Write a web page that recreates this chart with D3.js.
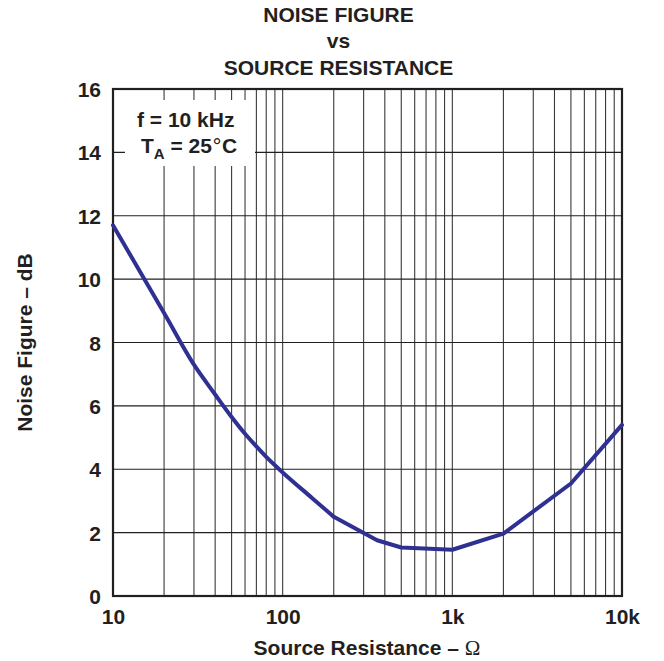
<!DOCTYPE html>
<html><head><meta charset="utf-8">
<script src="https://cdn.jsdelivr.net/npm/d3@7"></script>
<style>body{margin:0;background:#fff}svg{display:block}text{font-family:"Liberation Sans",Arial,sans-serif;font-weight:bold;fill:#231f20}</style>
</head><body>
<svg id="c" width="664" height="661"></svg>
<script>
const titleLines = ["NOISE FIGURE", "vs", "SOURCE RESISTANCE"];
const xLabel = "Source Resistance – ";
const yLabel = "Noise Figure – dB";
const xTicks = [10, 100, 1000, 10000];
const xTickLabels = ["10", "100", "1k", "10k"];
const yTicks = [0, 2, 4, 6, 8, 10, 12, 14, 16];
const resistance = [10, 20, 30, 40, 50, 60, 70, 80, 100, 150, 200, 360, 500, 1000, 2000, 5000, 10000];
const noiseFigure = [11.7, 8.93, 7.3, 6.36, 5.65, 5.12, 4.72, 4.39, 3.9, 3.08, 2.5, 1.76, 1.53, 1.46, 1.97, 3.55, 5.4];

const FS = 21;
const svg = d3.select("#c");
const L = 113, R = 622, T = 89, B = 596;
const x = d3.scaleLog().domain([10, 10000]).range([L, R]);
const y = d3.scaleLinear().domain([0, 16]).range([B, T]);

const vgrid = [];
for (let d = 10; d < 10000; d *= 10) for (let k = 1; k <= 9; k++) vgrid.push(d * k);
vgrid.push(10000);

const g = svg.append("g");
g.selectAll("line.v").data(vgrid).join("line")
  .attr("x1", d => x(d)).attr("x2", d => x(d)).attr("y1", T).attr("y2", B)
  .attr("stroke", "#3a3a3a").attr("stroke-width", 1.1);
g.selectAll("line.h").data(yTicks).join("line")
  .attr("x1", L).attr("x2", R).attr("y1", d => y(d)).attr("y2", d => y(d))
  .attr("stroke", "#231f20").attr("stroke-width", 1.1);

// annotation box
svg.append("rect").attr("x", 125).attr("y", 100).attr("width", 130).attr("height", 66).attr("fill", "#fff");
svg.append("text").attr("x", 137).attr("y", 127).attr("font-size", FS).text("f = 10 kHz");
const ann2 = svg.append("text").attr("x", 141).attr("y", 153).attr("font-size", FS);
ann2.append("tspan").text("T");
ann2.append("tspan").attr("font-size", 15).attr("dy", 6).text("A");
ann2.append("tspan").attr("dy", -6).text(" = 25");
ann2.append("tspan").style("font-weight", "normal").style("font-family", '"DejaVu Sans", sans-serif').attr("font-size", 20).text("°");
ann2.append("tspan").text("C");

// frame
svg.append("rect").attr("x", L).attr("y", T).attr("width", R - L).attr("height", B - T)
  .attr("fill", "none").attr("stroke", "#231f20").attr("stroke-width", 2.2);

// curve: smooth falling part, straight segments from 200 ohm on
const pts = resistance.map((r, i) => [r, noiseFigure[i]]);
const iSplit = resistance.indexOf(200);
const lineSmooth = d3.line().x(d => x(d[0])).y(d => y(d[1])).curve(d3.curveMonotoneX);
const lineStraight = d3.line().x(d => x(d[0])).y(d => y(d[1]));
const cs = { fill: "none", stroke: "#2e3192", "stroke-width": 4, "stroke-linejoin": "round", "stroke-linecap": "round" };
const p1 = svg.append("path").datum(pts.slice(0, iSplit + 1)).attr("d", lineSmooth);
const p2 = svg.append("path").datum(pts.slice(iSplit)).attr("d", lineStraight);
for (const p of [p1, p2]) for (const k in cs) p.attr(k, cs[k]);

// axes
const yAxis = d3.axisLeft(y).tickValues(yTicks).tickSize(0).tickPadding(12);
const ya = svg.append("g").attr("transform", `translate(${L},0)`).call(yAxis);
ya.select(".domain").remove();
ya.selectAll("text").attr("font-size", FS).style("font-family", '"Liberation Sans",Arial,sans-serif').style("font-weight", "bold").attr("fill", "#231f20").attr("dy", "0.36em");

const xAxis = d3.axisBottom(x).tickValues(xTicks).tickFormat((d, i) => xTickLabels[i]).tickSize(0).tickPadding(13);
const xa = svg.append("g").attr("transform", `translate(0,${B})`).call(xAxis);
xa.select(".domain").remove();
xa.selectAll("text").attr("font-size", FS).style("font-family", '"Liberation Sans",Arial,sans-serif').style("font-weight", "bold").attr("fill", "#231f20");

// title
svg.selectAll("text.title").data(titleLines).join("text").attr("class", "title")
  .attr("x", 338.5).attr("y", (d, i) => 22 + i * 26.3).attr("text-anchor", "middle").attr("font-size", FS).text(d => d);

// x label
const xl = svg.append("text").attr("x", 367).attr("y", 655).attr("text-anchor", "middle").attr("font-size", FS);
xl.append("tspan").text(xLabel);
xl.append("tspan").style("font-weight", "normal").style("font-family", '"Liberation Serif", serif').text("Ω");

// y label
svg.append("text").attr("transform", `translate(32,${(T + B) / 2}) rotate(-90)`).attr("text-anchor", "middle").attr("font-size", FS).text(yLabel);
</script>
</body></html>
